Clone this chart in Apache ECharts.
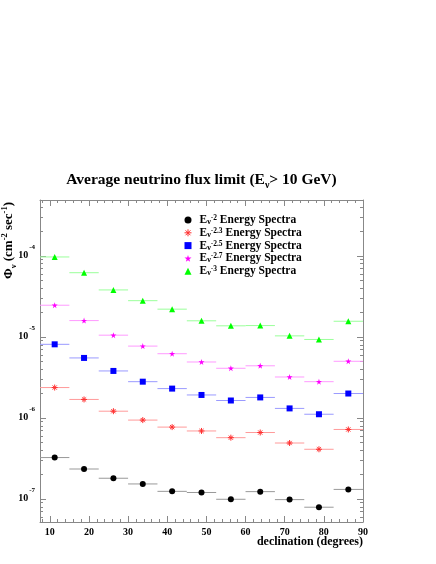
<!DOCTYPE html>
<html>
<head>
<meta charset="utf-8">
<script src="https://cdn.jsdelivr.net/npm/echarts@6/dist/echarts.min.js"></script>
<style>
html, body { margin: 0; padding: 0; background: #fff; }
#chart { width: 436px; height: 564px; }
</style>
</head>
<body>
<div id="chart"></div>
<script>
// declination bin centres (degrees), each bin is 7.5 deg wide
var declination = [11.25, 18.75, 26.25, 33.75, 41.25, 48.75, 56.25, 63.75, 71.25, 78.75, 86.25];
var binHalfWidth = 3.75;

// flux limits, cm^-2 sec^-1
var fluxE20 = [3.24e-7, 2.34e-7, 1.80e-7, 1.53e-7, 1.24e-7, 1.20e-7, 9.9e-8, 1.23e-7, 9.8e-8, 7.9e-8, 1.31e-7];
var fluxE23 = [2.37e-6, 1.69e-6, 1.21e-6, 9.4e-7, 7.7e-7, 6.9e-7, 5.7e-7, 6.6e-7, 4.9e-7, 4.1e-7, 7.2e-7];
var fluxE25 = [8.1e-6, 5.5e-6, 3.8e-6, 2.8e-6, 2.3e-6, 1.92e-6, 1.64e-6, 1.79e-6, 1.31e-6, 1.11e-6, 2.0e-6];
var fluxE27 = [2.46e-5, 1.59e-5, 1.05e-5, 7.7e-6, 6.2e-6, 4.9e-6, 4.1e-6, 4.4e-6, 3.2e-6, 2.8e-6, 5.0e-6];
var fluxE30 = [9.7e-5, 6.2e-5, 3.8e-5, 2.8e-5, 2.2e-5, 1.58e-5, 1.37e-5, 1.38e-5, 1.03e-5, 9.3e-6, 1.56e-5];

var spectralIndex = ['-2', '-2.3', '-2.5', '-2.7', '-3'];

var xMajorTicks = [10, 20, 30, 40, 50, 60, 70, 80, 90];
var xMinorTicks = [8, 12, 14, 16, 18, 22, 24, 26, 28, 32, 34, 36, 38, 42, 44, 46, 48,
    52, 54, 56, 58, 62, 64, 66, 68, 72, 74, 76, 78, 82, 84, 86, 88];
var yDecades = [-7, -6, -5, -4];

var xMin = 7.5, xMax = 90;
var yMin = -7.285, yMax = -3.31;   // log10 of flux

var frameColor = '#888';
var serif = '"Liberation Serif", "DejaVu Serif", serif';

// log minor ticks 2..9 x 10^n
var yMinorTicks = [];
for (var p = -8; p <= -4; p++) {
    for (var k = 2; k <= 9; k++) {
        var lv = Math.log10(k) + p;
        if (lv > yMin && lv < yMax) yMinorTicks.push(lv);
    }
}

function toLog(arr) {
    return declination.map(function (d, i) {
        return [d, Math.log10(arr[i])];
    });
}

function xAxisOf(pos, ticks, len, withLine, withLabel) {
    return {
        type: 'value', min: xMin, max: xMax, position: pos,
        axisLine: { show: withLine, onZero: false, lineStyle: { color: frameColor, width: 1 } },
        axisTick: { show: true, inside: true, length: len, customValues: ticks, lineStyle: { color: frameColor } },
        axisLabel: {
            show: withLabel, customValues: xMajorTicks, margin: 5,
            color: '#000', fontSize: 10, fontWeight: 'bold', fontFamily: serif
        },
        splitLine: { show: false }
    };
}

function yAxisOf(pos, ticks, len, withLine, withLabel) {
    return {
        type: 'value', min: yMin, max: yMax, position: pos,
        axisLine: { show: withLine, onZero: false, lineStyle: { color: frameColor, width: 1 } },
        axisTick: { show: true, inside: true, length: len, customValues: ticks, lineStyle: { color: frameColor } },
        axisLabel: {
            show: withLabel, customValues: yDecades, margin: 5,
            formatter: function (v) {
                return '{b|10}{s|' + Math.round(v) + '}';
            },
            rich: {
                b: { fontSize: 10, fontWeight: 'bold', fontFamily: serif, color: '#000', lineHeight: 24 },
                s: { fontSize: 7, fontWeight: 'bold', fontFamily: serif, color: '#000', lineHeight: 8,
                    verticalAlign: 'top', padding: [0, 0, 0, 1] }
            }
        },
        splitLine: { show: false }
    };
}

function errorBars(values, color) {
    return {
        type: 'custom',
        silent: true,
        z: 1,
        xAxisIndex: 0,
        yAxisIndex: 0,
        data: toLog(values),
        renderItem: function (params, api) {
            var a = api.coord([api.value(0) - binHalfWidth, api.value(1)]);
            var b = api.coord([api.value(0) + binHalfWidth, api.value(1)]);
            return {
                type: 'line',
                shape: { x1: a[0], y1: a[1], x2: b[0], y2: b[1] },
                style: { stroke: color, lineWidth: 1 }
            };
        }
    };
}

var asterisk = 'path://M0,5L10,5M5,0L5,10M1.5,1.5L8.5,8.5M8.5,1.5L1.5,8.5';
var star = 'path://M0,-10L2.24,-3.09L9.51,-3.09L3.63,1.18L5.88,8.09L0,3.82L-5.88,8.09L-3.63,1.18L-9.51,-3.09L-2.24,-3.09Z';

var names = spectralIndex.map(function (s) { return 'E' + s + ' Energy Spectra'; });
var symbols = ['circle', asterisk, 'rect', star, 'triangle'];
var styles = [
    { color: '#000000', opacity: 1 },
    { color: 'rgba(0,0,0,0)', borderColor: '#ff3030', borderWidth: 1, opacity: 1 },
    { color: '#0000ff', opacity: 1 },
    { color: '#ff00ff', opacity: 1 },
    { color: '#00ff00', opacity: 1 }
];
var fluxes = [fluxE20, fluxE23, fluxE25, fluxE27, fluxE30];
var barColors = ['#999999', '#ff9a9a', '#9a9aff', '#ff9aff', '#9aff9a'];

var series = [];
fluxes.forEach(function (f, i) {
    series.push(errorBars(f, barColors[i]));
});
fluxes.forEach(function (f, i) {
    series.push({
        type: 'scatter', name: names[i], z: 3, data: toLog(f),
        symbol: symbols[i], symbolSize: 6, itemStyle: styles[i]
    });
});

var option = {
    animation: false,
    backgroundColor: '#fff',
    grid: { left: 40, top: 200, width: 323, height: 322, containLabel: false },
    xAxis: [
        xAxisOf('bottom', xMajorTicks, 6, true, true),
        xAxisOf('bottom', xMinorTicks, 3, false, false),
        xAxisOf('top', xMajorTicks, 6, true, false),
        xAxisOf('top', xMinorTicks, 3, false, false)
    ],
    yAxis: [
        yAxisOf('left', yDecades, 6, true, true),
        yAxisOf('left', yMinorTicks, 3, false, false),
        yAxisOf('right', yDecades, 6, true, false),
        yAxisOf('right', yMinorTicks, 3, false, false)
    ],
    legend: {
        orient: 'vertical',
        left: 184,
        top: 214,
        padding: 0,
        itemWidth: 7,
        itemHeight: 7,
        itemGap: 0.8,
        selectedMode: false,
        data: names.map(function (n, i) {
            return { name: n, icon: symbols[i], itemStyle: styles[i] };
        }),
        formatter: function (name) {
            var i = names.indexOf(name);
            return '{e|E}{sub|ν}{sup|' + spectralIndex[i] + '}{t| Energy Spectra}';
        },
        textStyle: {
            rich: {
                e: { fontSize: 11.5, fontWeight: 'bold', fontFamily: serif, color: '#000', lineHeight: 12, padding: [0, 0, 0, 3] },
                t: { fontSize: 11.5, fontWeight: 'bold', fontFamily: serif, color: '#000', lineHeight: 12 },
                sub: { fontSize: 8, fontWeight: 'bold', fontFamily: serif, color: '#000', lineHeight: 8, verticalAlign: 'bottom' },
                sup: { fontSize: 7.5, fontWeight: 'bold', fontFamily: serif, color: '#000', lineHeight: 9, verticalAlign: 'top' }
            }
        }
    },
    graphic: [
        {
            type: 'text', x: 201.5, y: 180,
            style: {
                text: '{t|Average neutrino flux limit (E}{s|ν}{t|> 10 GeV)}',
                align: 'center', verticalAlign: 'middle',
                rich: {
                    t: { fontSize: 15.5, fontWeight: 'bold', fontFamily: serif, fill: '#000', lineHeight: 20 },
                    s: { fontSize: 10, fontWeight: 'bold', fontFamily: serif, fill: '#000', lineHeight: 12, verticalAlign: 'bottom' }
                }
            }
        },
        {
            type: 'text', x: 9, y: 202, rotation: Math.PI / 2,
            style: {
                text: '{a|Φ}{sub|ν}{a| (cm}{sup|-2}{a| sec}{sup|-1}{a|)}',
                align: 'right', verticalAlign: 'middle',
                rich: {
                    a: { fontSize: 13, fontWeight: 'bold', fontFamily: serif, fill: '#000', lineHeight: 18 },
                    sub: { fontSize: 8.5, fontWeight: 'bold', fontFamily: serif, fill: '#000', lineHeight: 10, verticalAlign: 'bottom' },
                    sup: { fontSize: 8.5, fontWeight: 'bold', fontFamily: serif, fill: '#000', lineHeight: 10, verticalAlign: 'top' }
                }
            }
        },
        {
            type: 'text', x: 363, y: 541.5,
            style: {
                text: 'declination (degrees)',
                align: 'right', verticalAlign: 'middle',
                fontSize: 12, fontWeight: 'bold', fontFamily: serif, fill: '#000'
            }
        }
    ],
    series: series
};

var myChart = echarts.init(document.getElementById('chart'));
myChart.setOption(option);
</script>
</body>
</html>
